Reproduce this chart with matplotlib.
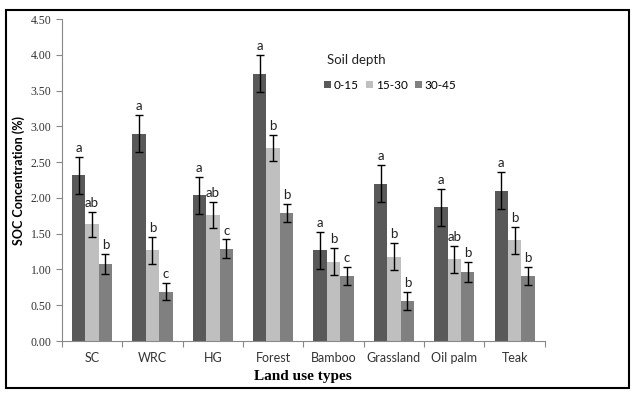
import numpy as np
import matplotlib.pyplot as plt
from matplotlib.patches import Rectangle

# ---------------------------------------------------------
# Data
# ---------------------------------------------------------
land_use = ["SC", "WRC", "HG", "Forest", "Bamboo", "Grassland", "Oil palm", "Teak"]
depths = ["0-15", "15-30", "30-45"]

soc_0_15 = [2.32, 2.90, 2.04, 3.74, 1.27, 2.20, 1.87, 2.10]
soc_15_30 = [1.63, 1.27, 1.76, 2.70, 1.11, 1.18, 1.14, 1.41]
soc_30_45 = [1.08, 0.69, 1.29, 1.79, 0.91, 0.56, 0.96, 0.91]

err_0_15 = [0.26, 0.26, 0.26, 0.26, 0.26, 0.26, 0.26, 0.26]
err_15_30 = [0.18, 0.19, 0.18, 0.18, 0.19, 0.19, 0.19, 0.19]
err_30_45 = [0.14, 0.12, 0.13, 0.13, 0.13, 0.13, 0.14, 0.13]

let_0_15 = ["a", "a", "a", "a", "a", "a", "a", "a"]
let_15_30 = ["ab", "b", "ab", "b", "b", "b", "ab", "b"]
let_30_45 = ["b", "c", "c", "b", "c", "b", "b", "b"]

colors = ["#595959", "#bfbfbf", "#808080"]

series = [soc_0_15, soc_15_30, soc_30_45]
errors = [err_0_15, err_15_30, err_30_45]
letters = [let_0_15, let_15_30, let_30_45]

sans = "Lato"

# ---------------------------------------------------------
# Plot
# ---------------------------------------------------------
fig = plt.figure(figsize=(6.38, 4.0), dpi=100)
ax = fig.add_axes([0.097, 0.1475, 0.757, 0.8045])

# outer frame like the pasted figure
fig.patches.append(Rectangle((0.0094, 0.03), 0.977, 0.945, transform=fig.transFigure,
                             fill=False, edgecolor="black", linewidth=1.5))

x = np.arange(len(land_use))
w = 0.222
for i in range(3):
    pos = x + (i - 1) * w
    ax.bar(pos, series[i], w, color=colors[i], label=depths[i], zorder=2)
    ax.errorbar(pos, series[i], yerr=errors[i], fmt="none", ecolor="black",
                elinewidth=1, capsize=3, capthick=1, zorder=3)
    for p, v, e, t in zip(pos, series[i], errors[i], letters[i]):
        ax.text(p, v + e + 0.04, t, ha="center", va="bottom", fontsize=9.5,
                family=sans, color="#222222")

ax.set_xlim(-0.5, len(land_use) - 0.5)
ax.set_ylim(0, 4.5)
ax.set_yticks(np.arange(0, 4.51, 0.5))
ax.set_yticklabels(["%.2f" % v for v in np.arange(0, 4.51, 0.5)],
                   family="Liberation Serif", fontsize=8.5, color="#333333")

# category labels, ticks at the boundaries (Excel style)
ax.set_xticks(np.arange(-0.5, len(land_use)), minor=False)
ax.set_xticklabels([])
ax.set_xticks(x, minor=True)
ax.set_xticklabels(land_use, minor=True, family=sans, fontsize=9, color="#333333")
ax.tick_params(axis="x", which="minor", length=0, pad=8)
ax.tick_params(axis="x", which="major", length=4, direction="out", color="#888888")
ax.tick_params(axis="y", length=4, direction="out", color="#888888")

for s in ["top", "right"]:
    ax.spines[s].set_visible(False)
for s in ["left", "bottom"]:
    ax.spines[s].set_color("#888888")

ax.set_ylabel("SOC Concentration (%)", family=sans, fontweight="bold", fontsize=9)
ax.set_xlabel("Land use types", family="Liberation Serif", fontweight="bold", fontsize=11,
              labelpad=4)

# legend title as separate text, entries below it
ax.text(0.549, 0.874, "Soil depth", transform=ax.transAxes, family=sans,
        fontsize=9.5, ha="left", va="center", color="#222222")
ax.legend(ncol=3, frameon=False, loc="center left",
          bbox_to_anchor=(0.52, 0.795), handlelength=0.6, handleheight=0.6,
          handletextpad=0.25, columnspacing=0.6,
          prop={"family": sans, "size": 8.5})

fig.savefig("out.png", dpi=100)
